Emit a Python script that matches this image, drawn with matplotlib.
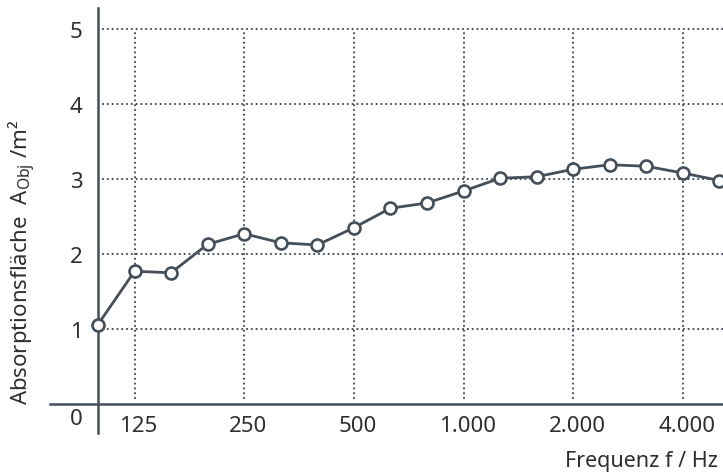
import matplotlib
matplotlib.use("Agg")
import matplotlib.pyplot as plt
import matplotlib.transforms as mtransforms

# ---- data ----
freqs = [100, 125, 160, 200, 250, 315, 400, 500, 630, 800, 1000,
         1250, 1600, 2000, 2500, 3150, 4000, 5000]
absorption = [1.06, 1.77, 1.75, 2.13, 2.27, 2.15, 2.12, 2.35, 2.61, 2.68,
              2.84, 3.01, 3.03, 3.13, 3.19, 3.17, 3.08, 2.98]
x_tick_freqs = [125, 250, 500, 1000, 2000, 4000]
x_tick_labels = ["125", "250", "500", "1.000", "2.000", "4.000"]
y_ticks = [0, 1, 2, 3, 4, 5]
y_tick_labels = ["0", "1", "2", "3", "4", "5"]

FONT = "Noto Sans"
plt.rcParams['font.family'] = [FONT, 'DejaVu Sans']
plt.rcParams['mathtext.fontset'] = 'custom'
plt.rcParams['mathtext.rm'] = FONT
plt.rcParams['mathtext.it'] = FONT

LINE = "#454f5a"
TEXT = "#2e2e2e"
FS = 16
W, H = 723, 474

fig = plt.figure(figsize=(W / 100, H / 100), dpi=100)
ax_left, ax_right = 98, 723
ax_top, ax_bot = 8, 433
ax = fig.add_axes([ax_left / W, 1 - ax_bot / H, (ax_right - ax_left) / W, (ax_bot - ax_top) / H])

idx = list(range(len(freqs)))
step = 36.55
ax.set_xlim(0, (ax_right - ax_left) / step)
ppu = 75.0
ax.set_ylim(-(ax_bot - 404) / ppu, (404 - ax_top) / ppu)

for s in ["top", "right", "bottom"]:
    ax.spines[s].set_visible(False)
ax.spines["left"].set_color(LINE)
ax.spines["left"].set_linewidth(1.8)

dots = dict(color=LINE, linewidth=1.6, linestyle=(0, (0.01, 2.15)),
            dash_capstyle="round", zorder=1)
# horizontal grid
x_start = 5 / step
for yv in y_ticks[1:]:
    ax.plot([x_start, ax.get_xlim()[1]], [yv, yv], **dots)
# vertical grid
tick_idx = [freqs.index(f) for f in x_tick_freqs]
for xi in tick_idx:
    ax.plot([xi, xi], [0.08, 4.95], **dots)

# x axis line extending left of the y axis
ax.axhline(0, xmin=(50 - ax_left) / (ax_right - ax_left), xmax=1, color=LINE,
           linewidth=1.8, clip_on=False, zorder=2)

# data
ax.plot(idx, absorption, color=LINE, linewidth=2.0, marker="o", markersize=8.6,
        markerfacecolor="white", markeredgecolor=LINE, markeredgewidth=1.9,
        zorder=3, clip_on=False)

# ticks
ax.set_xticks(tick_idx, x_tick_labels)
ax.tick_params(axis="x", length=0, pad=-1, labelsize=FS, labelcolor=TEXT)
for t in ax.get_xticklabels():
    t.set_va("baseline")
    t.set_transform(t.get_transform() + mtransforms.ScaledTranslation(4 / 100, 0, fig.dpi_scale_trans))

ax.set_yticks(y_ticks, y_tick_labels)
ax.tick_params(axis="y", length=0, pad=11, labelsize=FS, labelcolor=TEXT)
for t, v in zip(ax.get_yticklabels(), y_ticks):
    dy = -13 if v == 0 else -1
    t.set_transform(t.get_transform() + mtransforms.ScaledTranslation(0, dy / 100, fig.dpi_scale_trans))

ax.set_ylabel("Absorptionsfläche  A$_{\\mathrm{Obj}}$ /m²", fontsize=FS, color=TEXT)
ax.yaxis.set_label_coords((22 - ax_left) / (ax_right - ax_left), (ax_bot - 262) / (ax_bot - ax_top))
ax.yaxis.label.set_va("center")

ax.set_xlabel("Frequenz f / Hz", fontsize=15.5, color=TEXT)
ax.xaxis.set_label_coords((718 - ax_left) / (ax_right - ax_left), -(462 - ax_bot) / (ax_bot - ax_top))
ax.xaxis.label.set_ha("right")
ax.xaxis.label.set_va("center")

fig.savefig("out.png", dpi=100)
